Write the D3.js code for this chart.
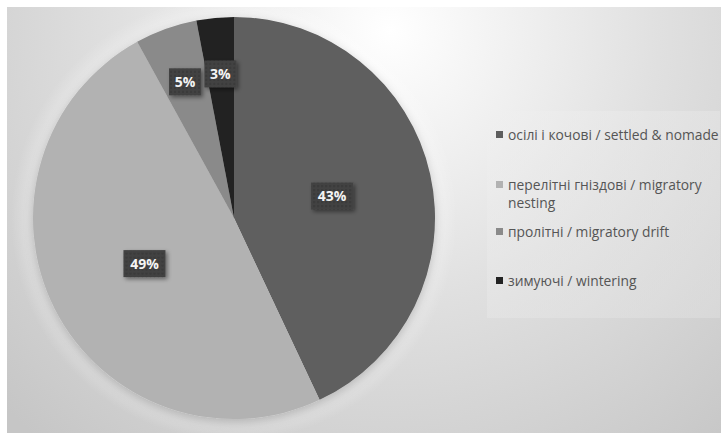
<!DOCTYPE html>
<html>
<head>
<meta charset="utf-8">
<script src="https://d3js.org/d3.v7.min.js"></script>
<style>
  body { margin: 0; background: #fff; }
  svg { display: block; }
</style>
</head>
<body>
<div id="pieDiv"></div>
<script>

// data
var categories = ["осілі і кочові / settled & nomade", "перелітні гніздові / migratory nesting", "пролітні / migratory drift", "зимуючі / wintering"];
var legendLines = [["осілі і кочові / settled & nomade"], ["перелітні гніздові / migratory", "nesting"], ["пролітні / migratory drift"], ["зимуючі / wintering"]];
var shares = [43, 49, 5, 3];
var sliceColors = ["#5e5e5e", "#b2b2b2", "#8a8a8a", "#232323"];

function pieChart(){

	var width = 728, height = 433;

	var svg = d3.select("#pieDiv")
		.append("svg")
		.attr("width", width)
		.attr("height", height);

	var defs = svg.append("defs");

	// background gradient of the plot panel
	var bg = defs.append("radialGradient")
		.attr("id", "bgGrad")
		.attr("gradientUnits", "userSpaceOnUse")
		.attr("cx", 390).attr("cy", 30).attr("r", 540);
	bg.append("stop").attr("offset", "0%").attr("stop-color", "#ffffff");
	bg.append("stop").attr("offset", "50%").attr("stop-color", "#e0e0e0");
	bg.append("stop").attr("offset", "100%").attr("stop-color", "#c6c6c6");

	// soft halo around the pie
	var halo = defs.append("radialGradient")
		.attr("id", "halo");
	halo.append("stop").attr("offset", "80%").attr("stop-color", "#ffffff").attr("stop-opacity", 0.6);
	halo.append("stop").attr("offset", "100%").attr("stop-color", "#ffffff").attr("stop-opacity", 0);

	// dotted texture for the label boxes
	var pat = defs.append("pattern")
		.attr("id", "dots")
		.attr("width", 4).attr("height", 4)
		.attr("patternUnits", "userSpaceOnUse");
	pat.append("rect").attr("width", 4).attr("height", 4).attr("fill", "#424242");
	pat.append("circle").attr("cx", 2).attr("cy", 2).attr("r", 0.9).attr("fill", "#363636");

	var shadow = defs.append("filter").attr("id", "shadow")
		.attr("x", "-30%").attr("y", "-30%").attr("width", "160%").attr("height", "160%");
	shadow.append("feDropShadow")
		.attr("dx", 2).attr("dy", 2).attr("stdDeviation", 2)
		.attr("flood-color", "#000").attr("flood-opacity", 0.45);

	var glow = defs.append("filter").attr("id", "glow")
		.attr("x", "-20%").attr("y", "-20%").attr("width", "140%").attr("height", "140%");
	glow.append("feDropShadow")
		.attr("dx", 0).attr("dy", 3).attr("stdDeviation", 5)
		.attr("flood-color", "#000").attr("flood-opacity", 0.2);

	var legendGrad = defs.append("linearGradient")
		.attr("id", "legGrad").attr("x1", 0).attr("y1", 0).attr("x2", 1).attr("y2", 1);
	legendGrad.append("stop").attr("offset", "0%").attr("stop-color", "#f0f0f0");
	legendGrad.append("stop").attr("offset", "100%").attr("stop-color", "#e2e2e2");

	// panel
	svg.append("rect")
		.attr("x", 7).attr("y", 7)
		.attr("width", 714).attr("height", 426)
		.attr("fill", "url(#bgGrad)");

	// legend box
	svg.append("rect")
		.attr("x", 487).attr("y", 111)
		.attr("width", 233).attr("height", 207)
		.attr("fill", "url(#legGrad)")
		.attr("opacity", 0.45);

	// pie
	var cx = 234, cy = 218, radius = 201;

	var pie = d3.pie()
		.sort(null)
		.value(function(d) { return d; });

	var arc = d3.arc().innerRadius(0).outerRadius(radius);

	svg.append("circle")
		.attr("cx", cx).attr("cy", cy)
		.attr("r", radius + 22)
		.attr("fill", "url(#halo)");

	var g = svg.append("g")
		.attr("transform", "translate(" + cx + "," + cy + ")");

	var arcs = pie(shares);

	g.append("g")
		.attr("filter", "url(#glow)")
		.selectAll("path")
		.data(arcs)
		.enter()
		.append("path")
		.attr("d", arc)
		.attr("fill", function(d, i) { return sliceColors[i]; });

	// labels: small slices sit further out
	var labels = g.selectAll(".lab")
		.data(arcs)
		.enter()
		.append("g")
		.attr("class", "lab")
		.attr("transform", function(d) {
			var r = d.data < 10 ? radius * 0.72 : radius * 0.5;
			var c = d3.arc().innerRadius(r).outerRadius(r).centroid(d);
			return "translate(" + c[0] + "," + c[1] + ")";
		});

	labels.append("rect")
		.attr("x", function(d) { return d.data < 10 ? -16 : -21; })
		.attr("y", -13.5)
		.attr("width", function(d) { return d.data < 10 ? 32 : 42; })
		.attr("height", 27)
		.attr("fill", "url(#dots)")
		.attr("filter", "url(#shadow)");

	labels.append("text")
		.attr("text-anchor", "middle")
		.attr("dy", "0.36em")
		.style("font-family", "'Open Sans', sans-serif")
		.style("font-weight", "bold")
		.style("font-size", "14px")
		.attr("fill", "#f4f4f4")
		.text(function(d) { return d.data + "%"; });

	// legend
	var legendY = [135, 185, 232, 281];

	var leg = svg.append("g")
		.selectAll("g")
		.data(categories)
		.enter()
		.append("g")
		.attr("transform", function(d, i) { return "translate(496," + legendY[i] + ")"; });

	leg.append("rect")
		.attr("x", 0).attr("y", -4)
		.attr("width", 7).attr("height", 7)
		.attr("fill", function(d, i) { return sliceColors[i]; });

	leg.append("text")
		.attr("x", 12)
		.style("font-family", "'Open Sans', sans-serif")
		.style("font-size", "13.8px")
		.attr("fill", "#555555")
		.selectAll("tspan")
		.data(function(d, i) { return legendLines[i]; })
		.enter()
		.append("tspan")
		.attr("x", 12)
		.attr("dy", function(d, j) { return j === 0 ? "0.35em" : "18px"; })
		.text(function(d) { return d; });
}

pieChart();
</script>
</body>
</html>
